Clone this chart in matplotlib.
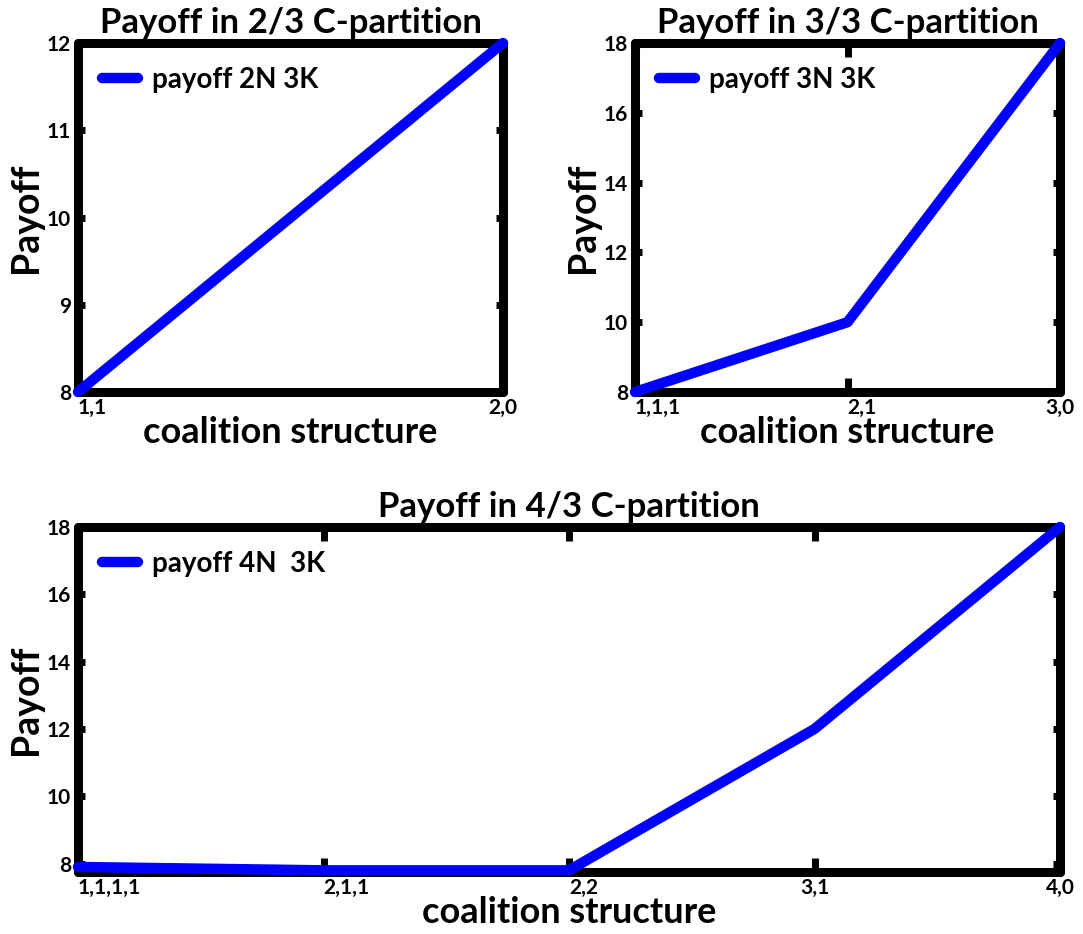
import matplotlib
matplotlib.use("Agg")
import matplotlib.pyplot as plt

plt.rcParams['font.family'] = ['Lato', 'DejaVu Sans']

# payoff per coalition structure
cs_2 = ["1,1", "2,0"]
payoff_2 = [8, 12]

cs_3 = ["1,1,1", "2,1", "3,0"]
payoff_3 = [8, 10, 18]

cs_4 = ["1,1,1,1", "2,1,1", "2,2", "3,1", "4,0"]
payoff_4 = [7.9, 7.8, 7.8, 12, 18]

yticks_2 = [8, 9, 10, 11, 12]
yticks_3 = [8, 10, 12, 14, 16, 18]
yticks_4 = [8, 10, 12, 14, 16, 18]

W, H = 1083, 934
fig = plt.figure(figsize=(W / 100, H / 100), dpi=100)


def px_axes(left, top, right, bottom):
    return fig.add_axes([left / W, 1 - bottom / H,
                         (right - left) / W, (bottom - top) / H])


ax1 = px_axes(78, 43, 503, 392)
ax2 = px_axes(635, 43, 1060, 392)
ax3 = px_axes(78, 527, 1060, 872)

BLUE = "#0000ff"


def style(ax, cats, vals, yticks, ylim, title, legend, aligns):
    x = list(range(1, len(cats) + 1))
    ax.plot(x, vals, color=BLUE, lw=7.5, solid_capstyle="round",
            solid_joinstyle="round", label=legend, clip_on=False, zorder=5)
    ax.set_xlim(1, len(cats))
    ax.set_ylim(*ylim)
    ax.set_xticks(x)
    ax.set_xticklabels(cats)
    ax.set_yticks(yticks)
    for lab, ha in zip(ax.get_xticklabels(), aligns):
        lab.set_horizontalalignment(ha)
    for lab in ax.get_xticklabels() + ax.get_yticklabels():
        lab.set_fontweight("bold")
        lab.set_fontsize(15)
    ax.tick_params(axis="x", direction="in", length=10, width=5,
                   top=True, pad=4)
    ax.tick_params(axis="y", direction="in", length=5, width=5,
                   right=True, pad=5)
    for s in ax.spines.values():
        s.set_linewidth(6.5)
        s.set_capstyle("round")
    ax.set_title(title, fontsize=25, fontweight="bold", pad=7)
    ax.set_xlabel("coalition structure", fontsize=26, fontweight="bold",
                  labelpad=-1)
    ax.set_ylabel("Payoff", fontsize=27, fontweight="bold", labelpad=3)
    ax.legend(loc="upper left", frameon=False, handlelength=1.3,
              prop={"weight": "bold", "size": 20},
              borderaxespad=0.45, handletextpad=0.5)


style(ax1, cs_2, payoff_2, yticks_2, (8, 12),
      "Payoff in 2/3 C-partition", "payoff 2N 3K",
      ["left", "center"])
style(ax2, cs_3, payoff_3, yticks_3, (8, 18),
      "Payoff in 3/3 C-partition", "payoff 3N 3K",
      ["left", "left", "center"])
style(ax3, cs_4, payoff_4, yticks_4, (7.75, 18),
      "Payoff in 4/3 C-partition", "payoff 4N  3K",
      ["left", "left", "left", "center", "center"])

fig.savefig("out.png", dpi=100)
